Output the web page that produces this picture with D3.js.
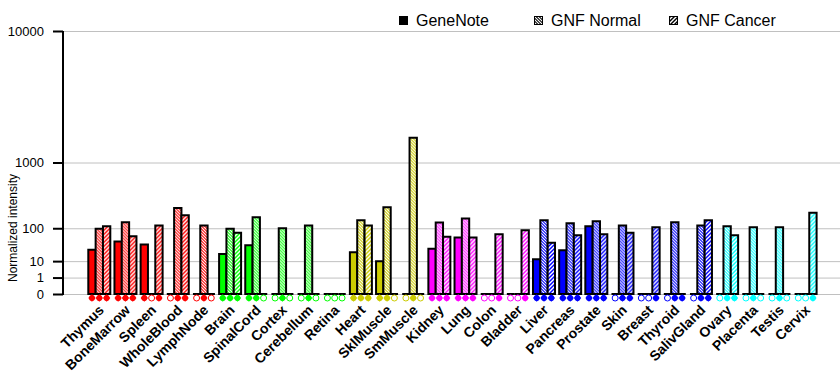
<!DOCTYPE html>
<html>
<head>
<meta charset="utf-8">
<script src="https://cdn.jsdelivr.net/npm/d3@7"></script>
<style>
  body { margin: 0; background: #fff; }
  svg { display: block; font-family: "Liberation Sans", Arial, sans-serif; }
</style>
</head>
<body>
<svg id="chart" width="840" height="385"></svg>
<script>
// tissues and their colour group
var tissues = ["Thymus", "BoneMarrow", "Spleen", "WholeBlood", "LymphNode",
  "Brain", "SpinalCord", "Cortex", "Cerebellum", "Retina",
  "Heart", "SklMuscle", "SmMuscle",
  "Kidney", "Lung", "Colon", "Bladder",
  "Liver", "Pancreas", "Prostate", "Skin", "Breast", "Thyroid", "SalivGland",
  "Ovary", "Placenta", "Testis", "Cervix"];
var groups = ["r", "r", "r", "r", "r", "g", "g", "g", "g", "g", "y", "y", "y",
  "m", "m", "m", "m", "b", "b", "b", "b", "b", "b", "b", "c", "c", "c", "c"];
var groupColors = { r: "#ff0000", g: "#00ff00", y: "#cccc00", m: "#ff00ff", b: "#0000ff", c: "#00ffff" };

// normalized intensity
var geneNote  = [27, 47, 39, 0, 0, 19, 37, 0, 0, 0, 22, 10, 0, 29, 60, 0, 0, 12, 26, 110, 0, 0, 0, 0, 0, 0, 0, 0];
var gnfNormal = [98, 133, 0, 244, 115, 98, 167, 100, 115, 0, 146, 251, 1775, 132, 158, 0, 0, 146, 127, 140, 115, 0, 133, 115, 110, 105, 105, 0];
var gnfCancer = [110, 65, 115, 182, 0, 79, 0, 0, 0, 0, 115, 0, 0, 63, 60, 73, 90, 44, 69, 73, 79, 105, 0, 146, 69, 0, 0, 202];

// present calls under each bar (1 = filled, 0 = open)
var calls = ["111", "111", "101", "011", "010", "111", "110", "010", "010", "000",
  "111", "110", "010", "111", "111", "001", "001", "111", "111", "111",
  "011", "001", "011", "011", "011", "010", "010", "001"];

var yTicks = [0, 1, 10, 100, 1000, 10000];
var seriesNames = ["GeneNote", "GNF Normal", "GNF Cancer"];

var svg = d3.select("#chart");
var yBase = 294, yTop = 31;

// each decade gets twice the height of the one below it
var y = d3.scalePow().exponent(Math.log10(2)).domain([0, 10000]).range([yBase, yTop]);
var x = d3.scaleBand().domain(tissues).range([88.3, 816.6]).paddingInner(0.159).paddingOuter(0);
var xs = d3.scaleBand().domain([0, 1, 2]).range([0, x.bandwidth()]);

// hatch patterns
var defs = svg.append("defs");
function makePatterns(key, col) {
  var p1 = defs.append("pattern").attr("id", "norm-" + key)
    .attr("patternUnits", "userSpaceOnUse").attr("width", 3).attr("height", 3);
  p1.append("rect").attr("width", 3).attr("height", 3).attr("fill", col);
  p1.append("path").attr("d", "M0,0L3,3M-1,2L1,4M2,-1L4,1")
    .attr("stroke", "#fff").attr("stroke-width", 1.1);
  var p2 = defs.append("pattern").attr("id", "canc-" + key)
    .attr("patternUnits", "userSpaceOnUse").attr("width", 4).attr("height", 4);
  p2.append("rect").attr("width", 4).attr("height", 4).attr("fill", col);
  p2.append("path").attr("d", "M0,4L4,0M-1,1L1,-1M3,5L5,3")
    .attr("stroke", "#fff").attr("stroke-width", 1.4);
}
Object.keys(groupColors).forEach(function(k) { makePatterns(k, groupColors[k]); });
makePatterns("k", "#000");

// gridlines
svg.append("g").selectAll("line").data(yTicks).enter().append("line")
  .attr("x1", 63).attr("x2", 840)
  .attr("y1", function(d) { return y(d) + 0.5; }).attr("y2", function(d) { return y(d) + 0.5; })
  .attr("stroke", "#c0c0c0").attr("stroke-width", 1);

// y axis
var yAxis = svg.append("g").attr("transform", "translate(63,0)")
  .call(d3.axisLeft(y).tickValues(yTicks).tickSize(10).tickPadding(9).tickFormat(d3.format("d")));
yAxis.select(".domain").attr("stroke-width", 2).attr("d", "M0," + yTop + "V" + (yBase + 1));
yAxis.selectAll(".tick line").attr("stroke-width", 2);
yAxis.selectAll(".tick text").attr("font-size", 13).attr("fill", "#000")
  .attr("font-family", "Liberation Sans, Arial, sans-serif");

svg.append("text")
  .attr("transform", "translate(17,228) rotate(-90)")
  .attr("text-anchor", "middle").attr("font-size", 12).text("Normalized intensity");

// bars
var rows = tissues.map(function(t, i) {
  return { name: t, key: groups[i], vals: [geneNote[i], gnfNormal[i], gnfCancer[i]], call: calls[i] };
});
var bars = svg.append("g").selectAll("g").data(rows).enter().append("g")
  .attr("transform", function(d) { return "translate(" + x(d.name) + ",0)"; });

bars.selectAll("path").data(function(d) {
  return d.vals.map(function(v, j) { return { v: v, j: j, key: d.key }; });
}).enter().append("path")
  .attr("d", function(d) {
    var x0 = xs(d.j), x1 = x0 + xs.bandwidth(), yt = y(d.v);
    return "M" + x0 + "," + yBase + "V" + yt + "H" + x1 + "V" + yBase + "Z";
  })
  .attr("fill", function(d) {
    if (d.j == 0) return groupColors[d.key];
    return "url(#" + (d.j == 1 ? "norm-" : "canc-") + d.key + ")";
  })
  .attr("stroke", "#000").attr("stroke-width", 2).attr("stroke-linejoin", "miter");

// call markers
bars.selectAll("g.mk").data(function(d) {
  return d.call.split("").map(function(c, j) { return { on: c == "1", j: j, key: d.key }; });
}).enter().append("g").attr("class", "mk")
  .attr("transform", function(d) { return "translate(" + (xs(d.j) + xs.bandwidth() / 2) + ",298)"; })
  .each(function(d) {
    var g = d3.select(this), col = groupColors[d.key];
    if (d.on) {
      g.append("path").attr("d", "M0,-3.7L3.7,0L0,3.7L-3.7,0Z").attr("fill", col);
      g.append("circle").attr("r", 2.9).attr("fill", col);
    } else {
      g.append("circle").attr("r", 3).attr("fill", "#fff").attr("stroke", col).attr("stroke-width", 1);
    }
  });

// tissue labels
svg.append("g").selectAll("text").data(tissues).enter().append("text")
  .attr("transform", function(d) {
    return "translate(" + (x(d) + x.bandwidth() / 2 - 1.5) + ",304) rotate(-45)";
  })
  .attr("text-anchor", "end").attr("dy", "0.7em").attr("font-size", 14).attr("font-weight", "bold")
  .text(function(d) { return d; });

// legend
var legX = [399, 534, 669];
var leg = svg.append("g").selectAll("g").data(seriesNames).enter().append("g")
  .attr("transform", function(d, i) { return "translate(" + legX[i] + ",16)"; });
leg.append("rect").attr("x", 0.5).attr("y", 0.5).attr("width", 8).attr("height", 8)
  .attr("stroke", "#000").attr("stroke-width", 1)
  .attr("fill", function(d, i) { return i == 0 ? "#000" : (i == 1 ? "url(#norm-k)" : "url(#canc-k)"); });
leg.append("text").attr("x", 17).attr("y", 10).attr("font-size", 16)
  .text(function(d) { return d; });
</script>
</body>
</html>
